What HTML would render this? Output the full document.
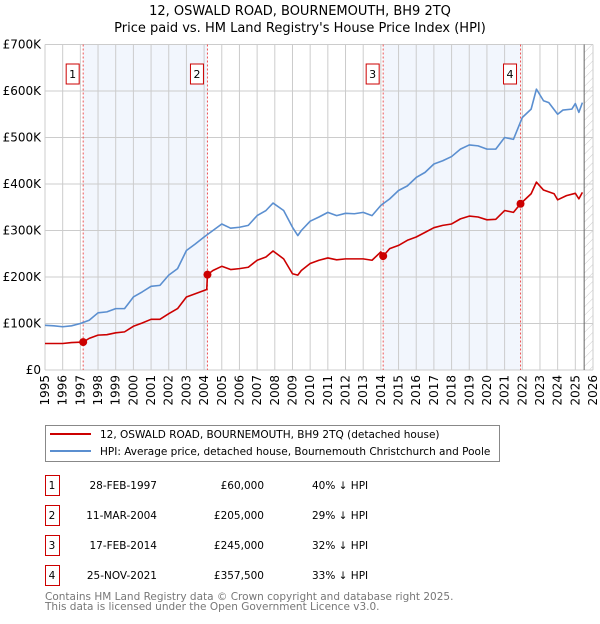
<!DOCTYPE html>
<html><head><meta charset="utf-8"><style>
body{margin:0;background:#fff;font-family:"DejaVu Sans","Liberation Sans",sans-serif;}
svg text{font-family:"DejaVu Sans","Liberation Sans",sans-serif;}
</style></head><body>
<svg id="c" width="600" height="620" xmlns="http://www.w3.org/2000/svg">
<defs><pattern id="hatch" width="6" height="6" patternUnits="userSpaceOnUse" patternTransform="rotate(45)"><line x1="0" y1="0" x2="0" y2="6" stroke="#ccc" stroke-width="1"/></pattern></defs>
<text x="300" y="15" text-anchor="middle" font-size="13">12, OSWALD ROAD, BOURNEMOUTH, BH9 2TQ</text>
<text x="300" y="32" text-anchor="middle" font-size="13">Price paid vs. HM Land Registry's House Price Index (HPI)</text>
<g id="plot"></g>
<g>
<rect x="45.5" y="425.5" width="454" height="36" fill="#fff" stroke="#888"/>
<line x1="50" y1="434" x2="91" y2="434" stroke="#cc0000" stroke-width="2"/>
<text x="100" y="438" font-size="10.5">12, OSWALD ROAD, BOURNEMOUTH, BH9 2TQ (detached house)</text>
<line x1="50" y1="451" x2="91" y2="451" stroke="#5b8fd0" stroke-width="2"/>
<text x="100" y="455" font-size="10.5">HPI: Average price, detached house, Bournemouth Christchurch and Poole</text>
</g>
<g id="table"></g>
<text x="45" y="600" font-size="10.5" fill="#777">Contains HM Land Registry data © Crown copyright and database right 2025.</text>
<text x="45" y="610" font-size="10.5" fill="#777">This data is licensed under the Open Government Licence v3.0.</text>
</svg>
<script>
const hpiYears=[1995,1995.5,1996,1996.5,1997,1997.5,1998,1998.5,1999,1999.5,2000,2000.5,2001,2001.5,2002,2002.5,2003,2003.5,2004,2004.5,2005,2005.5,2006,2006.5,2007,2007.5,2007.9,2008.5,2009,2009.3,2009.5,2010,2010.5,2011,2011.5,2012,2012.5,2013,2013.5,2014,2014.5,2015,2015.5,2016,2016.5,2017,2017.5,2018,2018.5,2019,2019.5,2020,2020.5,2021,2021.5,2022,2022.5,2022.8,2023.2,2023.5,2024,2024.3,2024.8,2025,2025.2,2025.4];
const hpiValues=[96,95,93,95,100,107,123,125,132,132,157,168,180,182,204,218,257,271,286,300,314,305,307,311,332,343,359,343,307,289,300,320,329,339,332,337,336,339,332,354,368,386,396,414,425,443,450,459,475,484,482,475,475,500,496,543,561,604,579,575,550,559,561,573,554,575];
const propYears=[1995,1996,1996.5,1997.16,1997.5,1998,1998.5,1999,1999.5,2000,2000.5,2001,2001.5,2002,2002.5,2003,2003.5,2004.15,2004.19,2004.5,2005,2005.5,2006,2006.5,2007,2007.5,2007.9,2008.5,2009,2009.3,2009.5,2010,2010.5,2011,2011.5,2012,2013,2013.5,2014,2014.13,2014.5,2015,2015.5,2016,2016.5,2017,2017.5,2018,2018.5,2019,2019.5,2020,2020.5,2021,2021.5,2021.9,2022.5,2022.8,2023.2,2023.8,2024,2024.5,2025,2025.2,2025.4];
const propValues=[57,57,59,60,68,75,76,80,82,94,101,109,109,121,132,157,164,173,205,214,223,216,218,221,236,243,256,239,207,204,214,229,236,241,237,239,239,236,254,245,261,268,279,286,296,306,311,314,325,331,329,323,324,343,339,357.5,379,404,387,379,366,375,380,368,382];
const saleLabels=["1","2","3","4"];
const saleYears=[1997.16,2004.19,2014.13,2021.9];
const saleValues=[60,205,245,357.5];
const saleDates=["28-FEB-1997","11-MAR-2004","17-FEB-2014","25-NOV-2021"];
const salePrices=["£60,000","£205,000","£245,000","£357,500"];
const saleDiffs=["40% ↓ HPI","29% ↓ HPI","32% ↓ HPI","33% ↓ HPI"];
const yTicks=[0,100,200,300,400,500,600,700];
const yTickLabels=["£0","£100K","£200K","£300K","£400K","£500K","£600K","£700K"];
const xTicks=[1995,1996,1997,1998,1999,2000,2001,2002,2003,2004,2005,2006,2007,2008,2009,2010,2011,2012,2013,2014,2015,2016,2017,2018,2019,2020,2021,2022,2023,2024,2025,2026];

const L=45,R=593,T=44.5,B=370;
const X=y=>L+(y-1995)*(R-L)/31;
const Y=v=>B-v*(B-T)/700;
const NS="http://www.w3.org/2000/svg";
const plot=document.getElementById('plot');
function mk(tag,attrs,parent){const e=document.createElementNS(NS,tag);for(const k in attrs)e.setAttribute(k,attrs[k]);(parent||plot).appendChild(e);return e;}
for(const [a,b] of [[0,1],[2,3]]){
 const r=mk('rect',{x:X(saleYears[a]),y:T,width:X(saleYears[b])-X(saleYears[a]),height:B-T,fill:'#f2f6fd'});
 
 
}
const h=mk('rect',{x:X(2025.5),y:T,width:R-X(2025.5),height:B-T,fill:'url(#hatch)'});


for(const t of yTicks){
 const g=mk('line',{x1:L,x2:R,y1:Y(t),y2:Y(t),stroke:'#ccc','stroke-width':1});
 
 
 const tx=mk('text',{x:L-4,y:Y(t)+4,'text-anchor':'end','font-size':12});
 tx.textContent=yTickLabels[yTicks.indexOf(t)];
 
 
}
for(const t of xTicks){
 const g=mk('line',{x1:X(t),x2:X(t),y1:T,y2:B,stroke:'#ccc','stroke-width':1});
 
 
 const tx=mk('text',{x:0,y:0,'text-anchor':'end','font-size':12,transform:`translate(${X(t)+4},${B+5}) rotate(-90)`});
 tx.textContent=t;
 
 
}
const fl=mk('line',{x1:X(2025.5),x2:X(2025.5),y1:T,y2:B,stroke:'#666','stroke-width':1});


saleYears.forEach((s,i)=>{
 const l=mk('line',{x1:X(s),x2:X(s),y1:T,y2:B,stroke:'#e55','stroke-width':1,'stroke-dasharray':'2,2'});
 
 
 const bx=mk('rect',{x:X(s)-17,y:64,width:13,height:20,fill:'#fff',stroke:'#cc0000'});
 
 
 const tx=mk('text',{x:X(s)-10.5,y:78,'text-anchor':'middle','font-size':11});
 tx.textContent=saleLabels[i];
 
 
});
function line(xs,vs,color,name){
 const p=mk('polyline',{points:xs.map((x,i)=>X(x)+','+Y(vs[i])).join(' '),fill:'none',stroke:color,'stroke-width':1.6,'stroke-linejoin':'round'});
 
 
}
line(hpiYears,hpiValues,'#5b8fd0','hpi-line');
line(propYears,propValues,'#cc0000','property-price-line');
saleYears.forEach((s,i)=>{
 const c=mk('circle',{cx:X(s),cy:Y(saleValues[i]),r:4,fill:'#cc0000'});
 
 
});
const tb=document.getElementById('table');
saleLabels.forEach((lb,i)=>{
 const y0=475+i*30;
 const r=mk('rect',{x:45.5,y:y0+0.5,width:14,height:20,fill:'#fff',stroke:'#cc0000'},tb);
 
 
 const cells=[[52,'middle',lb],[157,'end',saleDates[i]],[264,'end',salePrices[i]],[312,'start',saleDiffs[i]]];
 for(const [x,a,t] of cells){
  const tx=mk('text',{x:x,y:y0+14,'text-anchor':a,'font-size':10.5},tb);
  tx.textContent=t;
  
  
 }
});
</script>
</body></html>
